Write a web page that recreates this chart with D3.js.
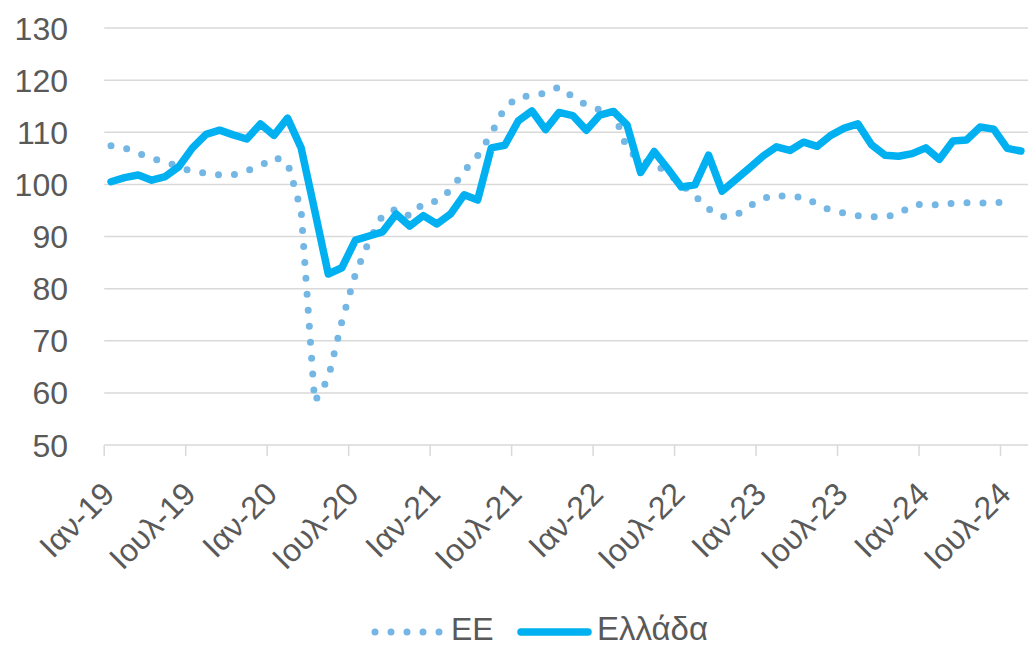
<!DOCTYPE html>
<html>
<head>
<meta charset="utf-8">
<script src="https://cdn.jsdelivr.net/npm/d3@7"></script>
<style>
  body { margin: 0; background: #fff; }
  text { font-family: "Liberation Sans", Arial, sans-serif; fill: #595959; }
</style>
</head>
<body>
<div id="chart"></div>
<script>
// monthly values, Jan 2019 onwards
var months = ["Ιαν", "Φεβ", "Μαρ", "Απρ", "Μαϊ", "Ιουν", "Ιουλ", "Αυγ", "Σεπ", "Οκτ", "Νοε", "Δεκ"];
var startYear = 2019;

var valuesEE = [
  107.4, 107.0, 106.0, 105.0, 104.3, 103.4, 102.4, 102.2, 101.8, 101.8, 102.6, 103.5,
  105.2, 104.2, 95.0, 58.3, 62.8, 73.7, 82.8, 89.1, 94.1, 95.3, 93.9, 96.4,
  96.8, 98.9, 102.5, 105.5, 109.7, 114.7, 116.8, 117.0, 117.5, 118.7, 116.8, 115.2,
  114.3, 114.1, 106.8, 104.5, 104.0, 102.2, 100.0, 97.8, 95.3, 93.8, 94.0, 95.8,
  97.3, 98.0, 97.5, 97.6, 96.2, 95.0, 94.5, 94.0, 93.8, 93.8, 94.3, 96.0,
  96.3, 96.0, 96.4, 96.5, 96.4, 96.5, 96.5
];

var valuesGreece = [
  100.5, 101.3, 101.8, 100.8, 101.5, 103.4, 107.0, 109.6, 110.4, 109.5, 108.7, 111.6,
  109.4, 112.7, 107.0, 95.0, 82.8, 84.0, 89.3, 90.1, 90.9, 94.3, 92.0, 94.0,
  92.4, 94.3, 98.0, 97.0, 107.0, 107.5, 112.2, 114.1, 110.5, 113.8, 113.2, 110.4,
  113.3, 114.0, 111.4, 102.3, 106.3, 103.0, 99.5, 99.9, 105.6, 98.7, 100.9, 103.1,
  105.4, 107.2, 106.5, 108.1, 107.3, 109.4, 110.8, 111.6, 107.6, 105.6, 105.4, 105.9,
  107.0, 104.8, 108.3, 108.5, 111.0, 110.6, 106.9, 106.4
];

var yTicks = [50, 60, 70, 80, 90, 100, 110, 120, 130];
var seriesNames = ["ΕΕ", "Ελλάδα"];
var colorEE = "#74b7e4", colorGreece = "#00b0f0";

var width = 1028, height = 646;

var svg = d3.select("#chart")
    .append("svg")
    .attr("width", width)
    .attr("height", height);

// month index -> pixel; points sit mid-month between tick marks
var x = d3.scaleLinear()
    .domain([0, 67])
    .range([111, 111 + 67 * 13.58]);

var y = d3.scaleLinear()
    .domain([50, 130])
    .range([445, 28]);

// gridlines
svg.append("g")
    .selectAll("line")
    .data(yTicks.slice(1))
    .enter()
    .append("line")
    .attr("x1", x(-0.5))
    .attr("x2", width)
    .attr("y1", function(d) { return y(d); })
    .attr("y2", function(d) { return y(d); })
    .style("stroke", "#d9d9d9")
    .style("stroke-width", 1.5);

// y labels
svg.append("g")
    .selectAll("text")
    .data(yTicks)
    .enter()
    .append("text")
    .attr("x", 68)
    .attr("y", function(d) { return y(d); })
    .attr("dy", "0.36em")
    .attr("text-anchor", "end")
    .style("font-size", "32px")
    .text(function(d) { return d; });

// x axis line + ticks every 6 months
var tickIdx = d3.range(0, 67, 6);
svg.append("line")
    .attr("x1", x(-0.5))
    .attr("x2", width)
    .attr("y1", y(50))
    .attr("y2", y(50))
    .style("stroke", "#d9d9d9")
    .style("stroke-width", 1.5);

svg.append("g")
    .selectAll("line")
    .data(tickIdx)
    .enter()
    .append("line")
    .attr("x1", function(d) { return x(d - 0.5); })
    .attr("x2", function(d) { return x(d - 0.5); })
    .attr("y1", y(50))
    .attr("y2", y(50) + 11)
    .style("stroke", "#d9d9d9")
    .style("stroke-width", 1.5);

var monthLabel = function(i) {
    var yr = startYear + Math.floor(i / 12);
    return months[i % 12] + "-" + String(yr).slice(2);
};

svg.append("g")
    .selectAll("text")
    .data(tickIdx)
    .enter()
    .append("text")
    .attr("transform", function(d) {
        return "translate(" + (x(d - 0.5) + 12) + "," + 496 + ") rotate(-45)";
    })
    .attr("text-anchor", "end")
    .style("font-size", "32px")
    .text(function(d) { return monthLabel(d); });

var line = d3.line()
    .x(function(d, i) { return x(i); })
    .y(function(d) { return y(d); });

svg.append("path")
    .datum(valuesEE)
    .attr("d", line)
    .style("fill", "none")
    .style("stroke", colorEE)
    .style("stroke-width", 7)
    .style("stroke-linecap", "round")
    .style("stroke-linejoin", "round")
    .style("stroke-dasharray", "0 16");

svg.append("path")
    .datum(valuesGreece)
    .attr("d", line)
    .style("fill", "none")
    .style("stroke", colorGreece)
    .style("stroke-width", 7.5)
    .style("stroke-linecap", "round")
    .style("stroke-linejoin", "round");

// legend
var ly = 632;
svg.append("line")
    .attr("x1", 375).attr("x2", 440)
    .attr("y1", ly).attr("y2", ly)
    .style("stroke", colorEE)
    .style("stroke-width", 7)
    .style("stroke-linecap", "round")
    .style("stroke-dasharray", "0 16");
svg.append("text")
    .attr("x", 451).attr("y", 640)
    .style("font-size", "32px")
    .text(seriesNames[0]);

svg.append("line")
    .attr("x1", 521).attr("x2", 588)
    .attr("y1", ly).attr("y2", ly)
    .style("stroke", colorGreece)
    .style("stroke-width", 7.5)
    .style("stroke-linecap", "round");
svg.append("text")
    .attr("x", 597).attr("y", 640)
    .style("font-size", "33px")
    .text(seriesNames[1]);
</script>
</body>
</html>
